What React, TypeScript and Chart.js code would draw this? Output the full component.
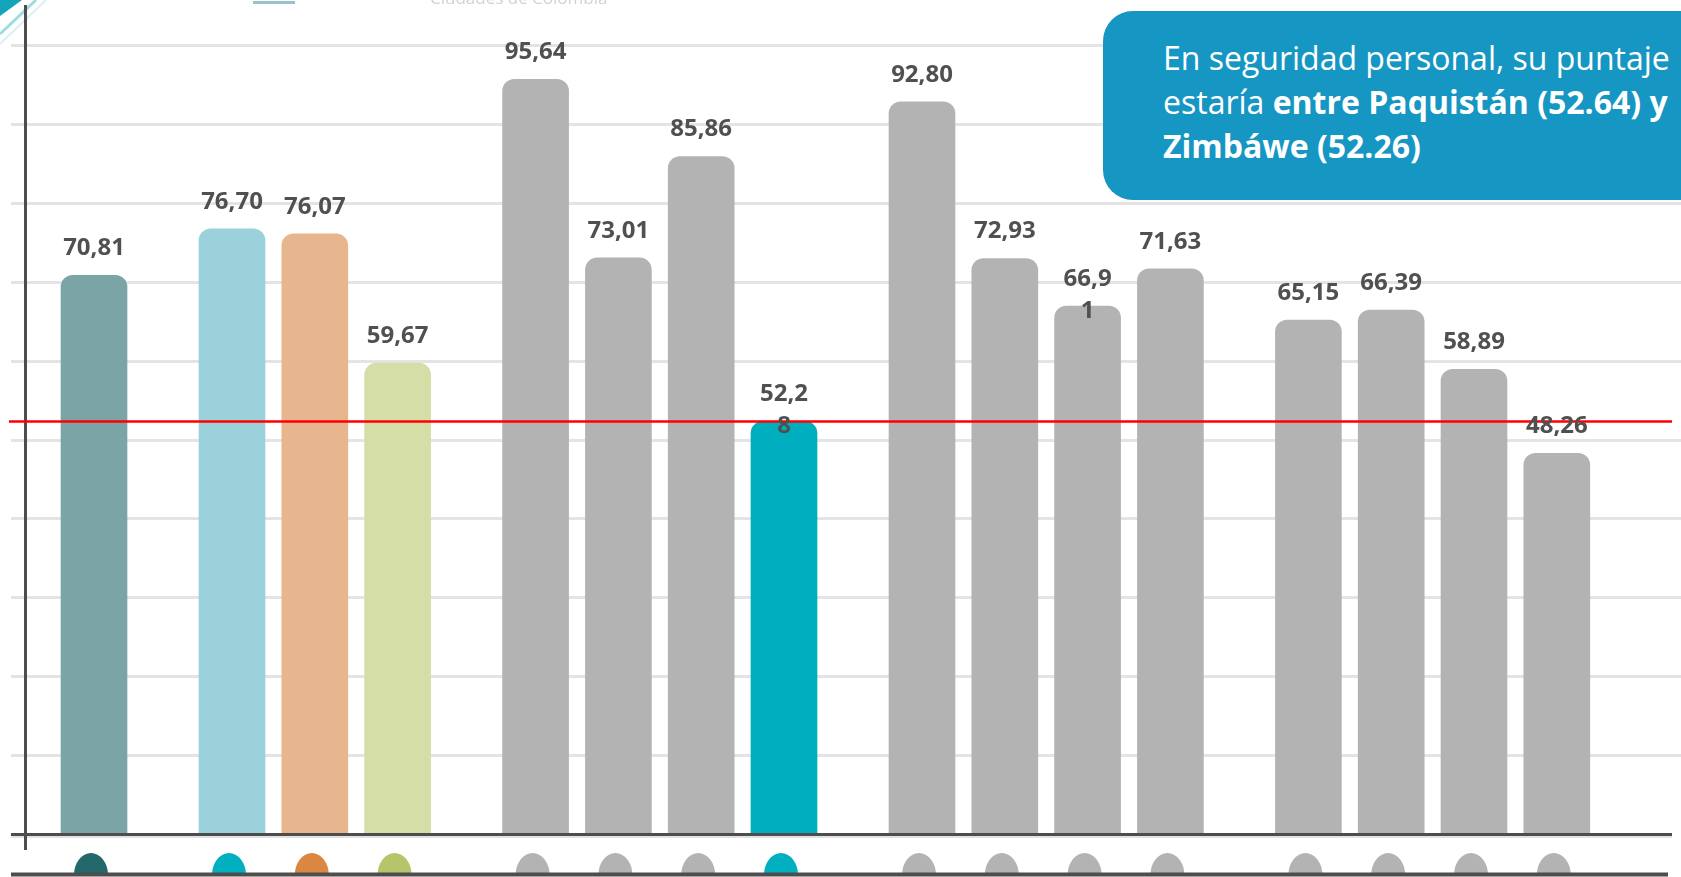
import React, { useEffect, useRef } from "react";
import { Chart, registerables } from "chart.js";

Chart.register(...registerables);

// ---------- data ----------
const categories = [
  "Barra 1",
  "Barra 2", "Barra 3", "Barra 4",
  "Barra 5", "Barra 6", "Barra 7", "Barra 8",
  "Barra 9", "Barra 10", "Barra 11", "Barra 12",
  "Barra 13", "Barra 14", "Barra 15", "Barra 16",
];
const values = [
  70.81,
  76.7, 76.07, 59.67,
  95.64, 73.01, 85.86, 52.28,
  92.8, 72.93, 66.91, 71.63,
  65.15, 66.39, 58.89, 48.26,
];
const groupSizes = [1, 3, 4, 4, 4];
const referenceValue = 52.28;
const wrappedLabelIndexes = [7, 10];
const yTickValues = [10, 20, 30, 40, 50, 60, 70, 80, 90, 100];

// ---------- styles ----------
const GRAY = "#B3B3B3";
const barColors = [
  "#7BA4A6",
  "#9AD1DB", "#E8B68E", "#D4DEA6",
  GRAY, GRAY, GRAY, "#00AFBF",
  GRAY, GRAY, GRAY, GRAY,
  GRAY, GRAY, GRAY, GRAY,
];
const markerColors = [
  "#23686B",
  "#00B0C0", "#DB8641", "#B5C56A",
  GRAY, GRAY, GRAY, "#00B0C0",
  GRAY, GRAY, GRAY, GRAY,
  GRAY, GRAY, GRAY, GRAY,
];

// category slots: bars separated by empty slots (layout only)
const slotLabels: string[] = [];
const slotValues: (number | null)[] = [];
const slotBar: number[] = [];
const pushGap = (n: number) => {
  for (let i = 0; i < n; i++) {
    slotLabels.push("gap" + slotLabels.length);
    slotValues.push(null);
    slotBar.push(-1);
  }
};
pushGap(2);
{
  let k = 0;
  groupSizes.forEach((size, g) => {
    if (g > 0) pushGap(4);
    for (let j = 0; j < size; j++) {
      if (j > 0) pushGap(2);
      slotLabels.push(categories[k]);
      slotValues.push(values[k]);
      slotBar.push(k);
      k++;
    }
  });
}
pushGap(4);

const fmt = (v: number) => v.toFixed(2).replace(".", ",");

const decorPlugin = {
  id: "decor",
  beforeDatasetsDraw(chart: any) {
    const { ctx, scales, width } = chart;
    const y = scales.y;
    ctx.save();
    // gridlines
    ctx.strokeStyle = "#E4E4E4";
    ctx.lineWidth = 3;
    yTickValues.forEach((v) => {
      const py = Math.round(y.getPixelForValue(v)) + 0.5;
      ctx.beginPath();
      ctx.moveTo(11, py);
      ctx.lineTo(width, py);
      ctx.stroke();
    });
    // top-left decoration
    ctx.fillStyle = "#12A4B8";
    ctx.beginPath();
    ctx.moveTo(0, 0);
    ctx.lineTo(22, 0);
    ctx.lineTo(0, 16);
    ctx.closePath();
    ctx.fill();
    ctx.strokeStyle = "rgba(80,190,200,0.55)";
    ctx.lineWidth = 3;
    ctx.beginPath();
    ctx.moveTo(0, 34);
    ctx.lineTo(36, 0);
    ctx.stroke();
    ctx.strokeStyle = "rgba(150,215,220,0.35)";
    ctx.lineWidth = 2;
    ctx.beginPath();
    ctx.moveTo(0, 44);
    ctx.lineTo(46, 0);
    ctx.stroke();
    // faded logo
    ctx.fillStyle = "rgba(70,140,160,0.55)";
    ctx.fillRect(253, 1, 42, 3);
    ctx.fillStyle = "#D2D2D2";
    ctx.font = '17px "Open Sans"';
    ctx.textAlign = "left";
    ctx.textBaseline = "alphabetic";
    ctx.fillText("Ciudades de Colombia", 430, 4);
    ctx.restore();
  },
  afterDraw(chart: any) {
    const { ctx, scales, chartArea, width } = chart;
    const x = scales.x;
    const y = scales.y;
    const meta = chart.getDatasetMeta(0);
    ctx.save();

    // bottom markers
    ctx.save();
    ctx.beginPath();
    ctx.rect(0, 0, width, 874);
    ctx.clip();
    slotBar.forEach((b, i) => {
      if (b < 0) return;
      const cx = x.getPixelForValue(i) - 3;
      ctx.fillStyle = markerColors[b];
      ctx.beginPath();
      ctx.ellipse(cx, 875, 17, 22, 0, 0, Math.PI * 2);
      ctx.fill();
    });
    ctx.restore();

    ctx.strokeStyle = "#4D4D4D";
    // bottom line
    ctx.lineWidth = 4;
    ctx.beginPath();
    ctx.moveTo(11, 874.5);
    ctx.lineTo(1668, 874.5);
    ctx.stroke();

    // x axis shadow + line
    ctx.strokeStyle = "#E2E2E2";
    ctx.lineWidth = 2;
    ctx.beginPath();
    ctx.moveTo(11, chartArea.bottom + 3);
    ctx.lineTo(1672, chartArea.bottom + 3);
    ctx.stroke();
    ctx.strokeStyle = "#4D4D4D";
    ctx.lineWidth = 3;
    ctx.beginPath();
    ctx.moveTo(11, chartArea.bottom + 0.5);
    ctx.lineTo(1672, chartArea.bottom + 0.5);
    ctx.stroke();
    // y axis
    ctx.beginPath();
    ctx.moveTo(chartArea.left + 0.5, 5);
    ctx.lineTo(chartArea.left + 0.5, chartArea.bottom + 16);
    ctx.stroke();

    // reference line
    const ry = y.getPixelForValue(referenceValue);
    ctx.strokeStyle = "#FF0000";
    ctx.lineWidth = 2.5;
    ctx.beginPath();
    ctx.moveTo(9, ry);
    ctx.lineTo(1672, ry);
    ctx.stroke();

    // data labels
    ctx.fillStyle = "#505050";
    ctx.font = 'bold 24px "Open Sans"';
    ctx.textAlign = "center";
    ctx.textBaseline = "middle";
    slotBar.forEach((b, i) => {
      if (b < 0) return;
      const el = meta.data[i];
      const text = fmt(values[b]);
      if (wrappedLabelIndexes.includes(b)) {
        ctx.fillText(text.slice(0, 4), el.x, el.y - 27);
        ctx.fillText(text.slice(4), el.x, el.y + 5);
      } else {
        ctx.fillText(text, el.x, el.y - 27);
      }
    });
    ctx.restore();
  },
};

export default function App() {
  const canvasRef = useRef<HTMLCanvasElement | null>(null);

  useEffect(() => {
    if (!canvasRef.current) return;
    const chart = new Chart(canvasRef.current, {
      type: "bar",
      data: {
        labels: slotLabels,
        datasets: [
          {
            data: slotValues,
            backgroundColor: (c: any) => {
              const b = slotBar[c.dataIndex];
              return b >= 0 ? barColors[b] : "transparent";
            },
            barThickness: 66,
            borderRadius: { topLeft: 12, topRight: 12, bottomLeft: 0, bottomRight: 0 },
            borderSkipped: "bottom",
          },
        ],
      },
      options: {
        animation: false,
        responsive: true,
        maintainAspectRatio: false,
        layout: { padding: { left: 25, top: 16, right: 0, bottom: 43 } },
        plugins: {
          legend: { display: false },
          tooltip: { enabled: false },
          title: { display: false },
        },
        scales: {
          x: { type: "category", display: false, offset: true },
          y: { display: false, min: 0, max: (100 * 818) / 789 },
        },
      },
      plugins: [decorPlugin],
    });
    return () => chart.destroy();
  }, []);

  return (
    <div
      style={{
        position: "fixed",
        left: 0,
        top: 0,
        width: 1681,
        height: 877,
        overflow: "hidden",
        background: "#ffffff",
      }}
    >
      <div style={{ position: "absolute", left: 0, top: 0, width: 1681, height: 877 }}>
        <canvas ref={canvasRef} />
      </div>
      <div
        style={{
          position: "absolute",
          left: 1103,
          top: 11,
          width: 640,
          height: 189,
          boxSizing: "border-box",
          background: "#1696C2",
          borderRadius: 30,
          color: "#ffffff",
          fontFamily: '"Open Sans", sans-serif',
          fontSize: 32,
          lineHeight: "44px",
          paddingLeft: 60,
          paddingTop: 25,
          whiteSpace: "nowrap",
        }}
      >
        En seguridad personal, su puntaje
        <br />
        estaría <b>entre Paquistán (52.64) y</b>
        <br />
        <b>Zimbáwe (52.26)</b>
      </div>
    </div>
  );
}
